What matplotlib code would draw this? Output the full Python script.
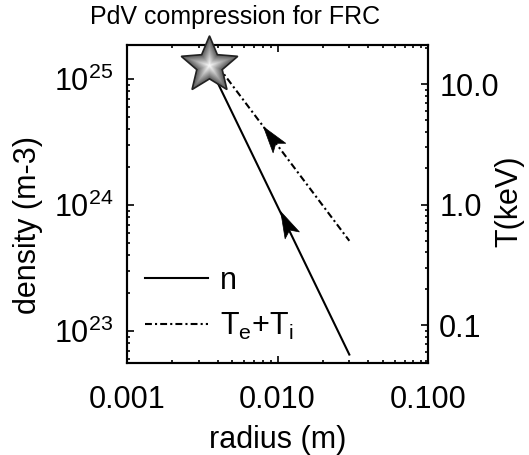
import numpy as np
import matplotlib
matplotlib.use('Agg')
import matplotlib.pyplot as plt
from matplotlib.path import Path
from matplotlib.markers import MarkerStyle
from matplotlib.transforms import Affine2D
from matplotlib import ticker

plt.rcParams['font.family'] = ['Liberation Sans', 'DejaVu Sans']
plt.rcParams['mathtext.fontset'] = 'custom'
plt.rcParams['mathtext.rm'] = 'Liberation Sans'
plt.rcParams['mathtext.it'] = 'Liberation Sans:italic'
plt.rcParams['mathtext.default'] = 'regular'

# data
radius = [0.0035, 0.030]          # m
density = [1.3e25, 6.5e22]        # m^-3
temperature = [17.7, 0.5]         # Te+Ti, keV
star_r = 0.0035
star_n = 1.3e25
arrow_r_n = 0.0113                # where the direction arrows sit
arrow_r_T = 0.0091

xticks = [0.001, 0.01, 0.1]
xticklabels = ['0.001', '0.010', '0.100']
tticks = [0.1, 1.0, 10.0]
tticklabels = ['0.1', '1.0', '10.0']

fs = 22
dashdot = (0, (3.3, 1.5, 1, 1.5))

fig = plt.figure(figsize=(5.29, 4.55), dpi=100)
ax = fig.add_axes([0.2401, 0.2022, 0.569, 0.6989])
ax2 = ax.twinx()

ax.set_xscale('log')
ax.set_yscale('log')
ax2.set_yscale('log')
ax.set_xlim(0.001, 0.1)
ax.set_ylim(10**22.746, 10**25.27)
ax2.set_ylim(0.0484, 21.1)

h1 = ax.plot(radius, density, color='k', lw=1.5, label='n')
h2 = ax2.plot(radius, temperature, color='k', lw=1.5, ls=dashdot,
              label='T$_e$+T$_i$')


def arrow_on_line(a, xs, ys, xr, ms=19):
    # barbed arrow head sitting on the line, pointing to the small radius end
    yr = 10 ** np.interp(np.log10(xr), np.log10(xs), np.log10(ys))
    p0 = a.transData.transform((xs[0], ys[0]))
    p1 = a.transData.transform((xs[-1], ys[-1]))
    ang = np.degrees(np.arctan2(p0[1] - p1[1], p0[0] - p1[0]))
    head = Path([(1, 0), (-1, 0.6), (-0.55, 0), (-1, -0.6), (1, 0)],
                [Path.MOVETO, Path.LINETO, Path.LINETO, Path.LINETO, Path.CLOSEPOLY])
    m = MarkerStyle(head, transform=Affine2D().rotate_deg(ang))
    a.plot([xr], [yr], marker=m, ms=ms, color='k', mec='k', mew=0.5, ls='none')


arrow_on_line(ax, radius, density, arrow_r_n)
arrow_on_line(ax2, radius, temperature, arrow_r_T)

# star with a grey radial-ish gradient
star = Path.unit_regular_star(5, 0.45)
sizes = np.linspace(42, 3, 16)
greys = np.linspace(0.36, 0.96, 16)
for i, (s, g) in enumerate(zip(sizes, greys)):
    if i == 0:
        ax2.plot([star_r], [star_n], marker=star, ms=s, mfc=str(g), mec='#222222',
                 mew=1.5, ls='none', transform=ax.transData, clip_on=False, zorder=10)
    else:
        ax2.plot([star_r], [star_n], marker=star, ms=s, mfc=str(g), mec='none',
                 ls='none', transform=ax.transData, clip_on=False, zorder=10 + i)

# ticks
ax.set_xticks(xticks)
ax.set_xticklabels(xticklabels)
ax.xaxis.set_minor_formatter(ticker.NullFormatter())
ax.yaxis.set_minor_formatter(ticker.NullFormatter())
ax2.set_yticks(tticks)
ax2.set_yticklabels(tticklabels)
ax2.yaxis.set_minor_formatter(ticker.NullFormatter())

ax.tick_params(which='both', direction='in', top=True, right=False,
               labelsize=fs, width=1.2)
ax.tick_params(which='major', length=5)
ax.tick_params(which='minor', length=2.5)
ax.tick_params(axis='x', pad=16)
ax.tick_params(axis='y', pad=10)
ax2.tick_params(which='both', direction='in', labelsize=fs, width=1.2, pad=8)
ax2.tick_params(which='major', length=5)
ax2.tick_params(which='minor', length=2.5)

for a in (ax, ax2):
    for sp in a.spines.values():
        sp.set_linewidth(1.5)

ax.set_xlabel('radius (m)', fontsize=fs)
ax.xaxis.set_label_coords(0.5, -0.195)
ax.set_ylabel('density (m-3)', fontsize=fs)
ax.yaxis.set_label_coords(-0.279, 0.435)
ax2.set_ylabel('T(keV)', fontsize=fs)
ax2.yaxis.set_label_coords(1.222, 0.51)

fig.text(235 / 529, 1 - 17 / 455, 'PdV compression for FRC', fontsize=18,
         ha='center', va='center')

ax2.legend(handles=[h1[0], h2[0]], loc='lower left', bbox_to_anchor=(0.06, 0.066),
           frameon=False, fontsize=fs, handlelength=2.05, handletextpad=0.4,
           labelspacing=0.5, borderpad=0, borderaxespad=0)

fig.savefig('out.png', dpi=100)
